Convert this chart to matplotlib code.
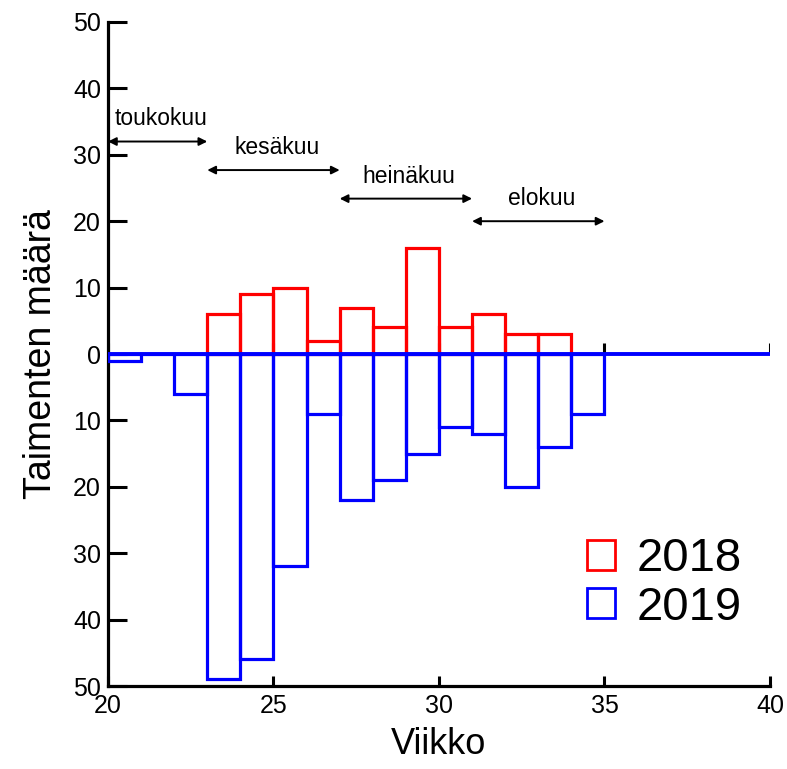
import matplotlib.pyplot as plt
import numpy as np
from matplotlib.patches import Patch
from matplotlib.ticker import FuncFormatter

plt.rcParams['font.family'] = ['Liberation Sans', 'DejaVu Sans']

# Viikot ja taimenten määrät
viikot_2018 = [23, 24, 25, 26, 27, 28, 29, 30, 31, 32, 33]
maara_2018 = [6, 9, 10, 2, 7, 4, 16, 4, 6, 3, 3]
viikot_2019 = [20, 21, 22, 23, 24, 25, 26, 27, 28, 29, 30, 31, 32, 33, 34]
maara_2019 = [1, 0, 6, 49, 46, 32, 9, 22, 19, 15, 11, 12, 20, 14, 9]

# Kuukaudet (alku- ja loppuviikko)
kuukaudet = ['toukokuu', 'kesäkuu', 'heinäkuu', 'elokuu']
kk_alku = [20, 23, 27, 31]
kk_loppu = [23, 27, 31, 35]
nuoli_y = [32, 27.7, 23.4, 20]  # nuolten korkeus

fig = plt.figure(figsize=(7.87, 7.69), dpi=100)
ax = fig.add_axes([0.1372, 0.1079, 0.8412, 0.8635])

lw = 2.3
ax.bar(viikot_2018, maara_2018, width=1, align='edge', fill=False,
       edgecolor='#ff0000', linewidth=lw, zorder=2)
ax.bar(viikot_2019, -np.array(maara_2019), width=1, align='edge', fill=False,
       edgecolor='#0000ff', linewidth=lw, zorder=3)

# nollaviiva ja sen tikit
xt = [20, 25, 30, 35, 40]
ax.vlines(xt, 0, 1.6, color='black', linewidth=2.2, zorder=1)
ax.plot([20, 40], [0, 0], color='#0000ff', linewidth=2.8, zorder=4,
        solid_capstyle='butt')

# kuukausinuolet
for nimi, a, b, y in zip(kuukaudet, kk_alku, kk_loppu, nuoli_y):
    ax.annotate('', xy=(b, y), xytext=(a, y),
                arrowprops=dict(arrowstyle='<|-|>', color='black', lw=1.4,
                                mutation_scale=12, shrinkA=0, shrinkB=0))
    ax.text((a + b) / 2 + 0.1, y + 3.4, nimi, ha='center', va='center',
            fontsize=16.5)

ax.set_xlim(20, 40)
ax.set_ylim(-50, 50)
ax.set_xticks(xt)
ax.set_yticks(np.arange(-50, 51, 10))
ax.yaxis.set_major_formatter(FuncFormatter(lambda v, p: f'{abs(int(v))}'))

for s in ['top', 'right']:
    ax.spines[s].set_visible(False)
for s in ['left', 'bottom']:
    ax.spines[s].set_linewidth(2.3)
ax.tick_params(axis='y', direction='in', length=14, width=2.2, labelsize=18, pad=5)
ax.tick_params(axis='x', direction='in', length=7.5, width=2.2, labelsize=18, pad=6)

ax.set_xlabel('Viikko', fontsize=26, labelpad=6)
ax.set_ylabel('Taimenten määrä', fontsize=27, labelpad=10)

handles = [Patch(facecolor='white', edgecolor='#ff0000', linewidth=2),
           Patch(facecolor='white', edgecolor='#0000ff', linewidth=2)]
ax.legend(handles, ['2018', '2019'], loc='upper left', bbox_to_anchor=(0.723, 0.224),
          frameon=False, fontsize=34, handlelength=0.6, handleheight=0.6,
          handletextpad=0.45, labelspacing=0.1, borderpad=0, borderaxespad=0)

fig.savefig('out.png', dpi=100)
